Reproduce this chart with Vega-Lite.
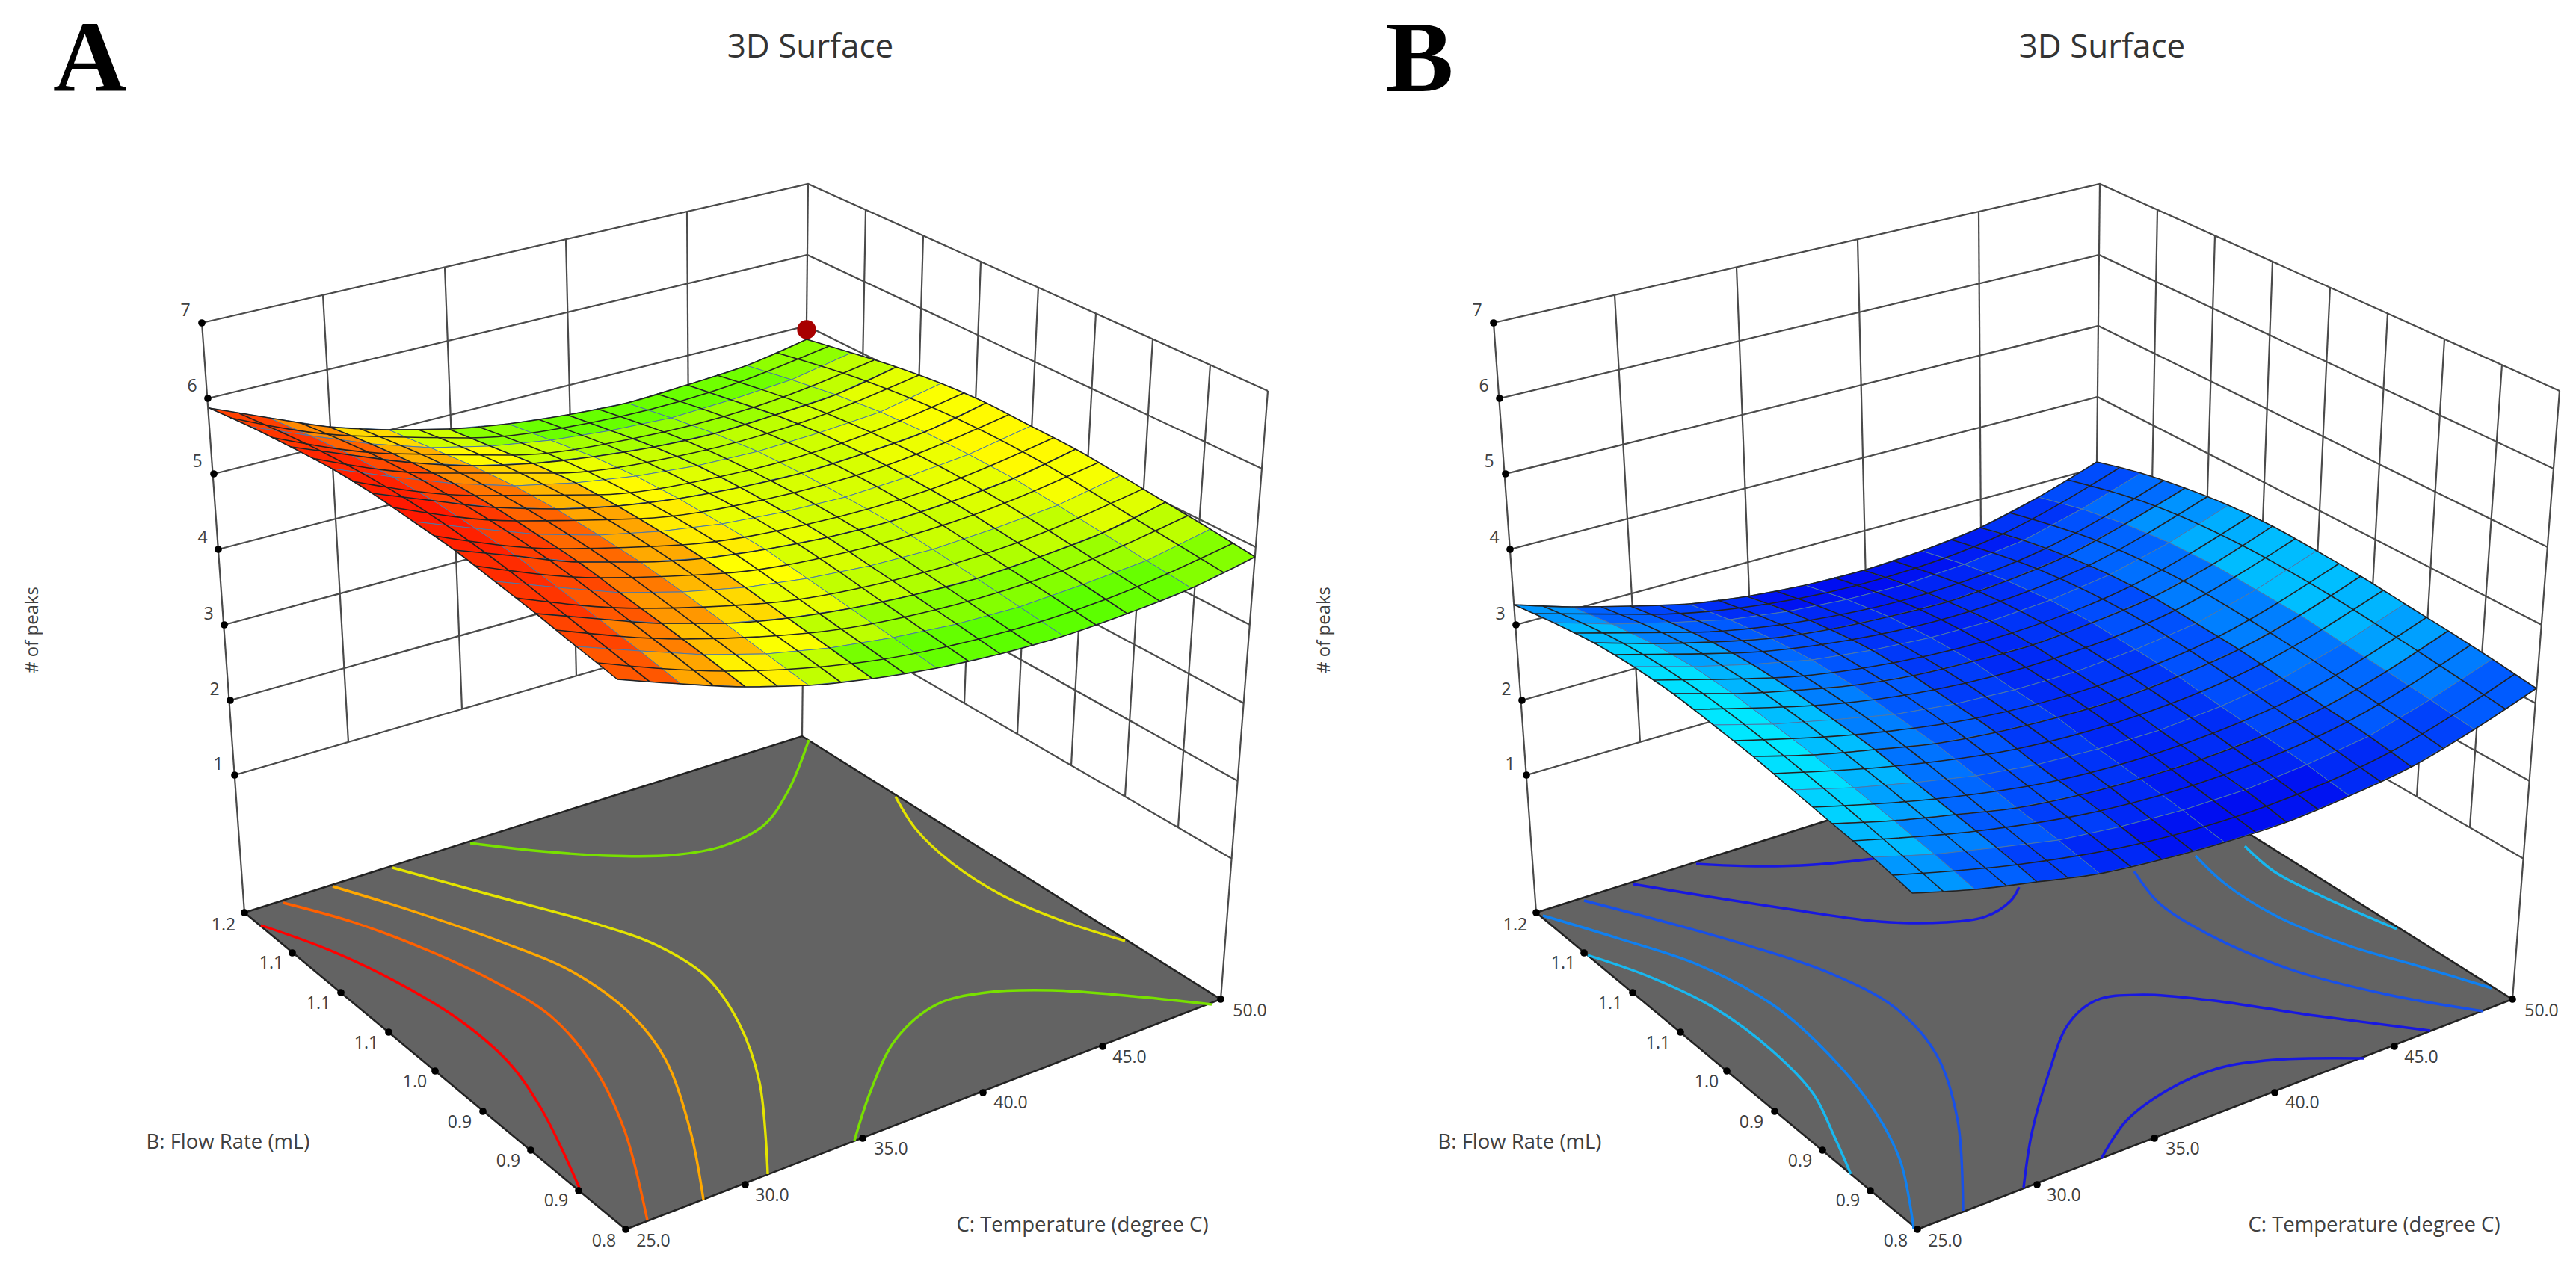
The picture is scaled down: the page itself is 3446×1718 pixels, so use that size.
{"$schema":"https://vega.github.io/schema/vega-lite/v6.json","padding":0,"autosize":{"type":"pad"},"background":"white","spacing":0,"config":{"view":{"stroke":null}},
"resolve":{"scale":{"fill":"independent","stroke":"independent"}},
"datasets":{
"walls":[
{"l":"z7","x":[270,1081,1696],"y":[432,246,523]},{"l":"z6","x":[278,1080,1688],"y":[533,341,627]},{"l":"z5","x":[286,1079,1680],"y":[634,436,732]},{"l":"z4","x":[292,1078,1672],"y":[735,531,836]},{"l":"z3","x":[300,1077,1664],"y":[836,626,941]},{"l":"z2","x":[308,1076,1656],"y":[937,721,1045]},{"l":"z1","x":[314,1075,1648],"y":[1037,816,1149]},
{"l":"a0","x":[270,327],"y":[432,1221]},{"l":"a1","x":[1081,1073],"y":[246,985]},{"l":"a2","x":[1696,1633],"y":[523,1337]},
{"l":"b1","x":[432,466],"y":[395,993]},{"l":"b2","x":[595,618],"y":[358,949]},{"l":"b3","x":[757,771],"y":[321,905]},{"l":"b4","x":[919,923],"y":[284,860]},
{"l":"c1","x":[1158,1147],"y":[281,858]},{"l":"c2","x":[1235,1218],"y":[315,899]},{"l":"c3","x":[1312,1290],"y":[350,941]},{"l":"c4","x":[1389,1361],"y":[384,982]},{"l":"c5","x":[1466,1433],"y":[419,1024]},{"l":"c6","x":[1542,1505],"y":[454,1066]},{"l":"c7","x":[1619,1576],"y":[488,1107]}],
"floor":[{"x":327,"y":1221},{"x":1073,"y":985},{"x":1633,"y":1337},{"x":837,"y":1645},{"x":327,"y":1221}],
"ticks":[{"x":270,"y":432},{"x":278,"y":533},{"x":286,"y":634},{"x":292,"y":735},{"x":300,"y":836},{"x":308,"y":937},{"x":314,"y":1037},{"x":327,"y":1221},{"x":391,"y":1275},{"x":456,"y":1328},{"x":520,"y":1381},{"x":582,"y":1433},{"x":646,"y":1487},{"x":710,"y":1539},{"x":774,"y":1593},{"x":837,"y":1645},{"x":997,"y":1585},{"x":1154,"y":1523},{"x":1315,"y":1462},{"x":1475,"y":1400},{"x":1633,"y":1337}],
"labels":[{"x":248,"y":416,"t":"7"},{"x":257,"y":517,"t":"6"},{"x":264,"y":618,"t":"5"},{"x":271,"y":720,"t":"4"},{"x":279,"y":822,"t":"3"},{"x":287,"y":923,"t":"2"},{"x":292,"y":1023,"t":"1"},
{"x":299,"y":1238,"t":"1.2"},{"x":363,"y":1289,"t":"1.1"},{"x":426,"y":1343,"t":"1.1"},{"x":490,"y":1396,"t":"1.1"},{"x":555,"y":1448,"t":"1.0"},{"x":615,"y":1502,"t":"0.9"},{"x":680,"y":1554,"t":"0.9"},{"x":744,"y":1607,"t":"0.9"},{"x":808,"y":1661,"t":"0.8"},
{"x":874,"y":1661,"t":"25.0"},{"x":1033,"y":1600,"t":"30.0"},{"x":1192,"y":1538,"t":"35.0"},{"x":1352,"y":1476,"t":"40.0"},{"x":1511,"y":1415,"t":"45.0"},{"x":1672,"y":1353,"t":"50.0"}],
"axisTitles":[{"x":305,"y":1529,"t":"B: Flow Rate (mL)"},{"x":1448,"y":1640,"t":"C: Temperature (degree C)"}],
"contA":[
{"l":"a","level":"L1","x":[349,440,527,615,681,725,775],"y":[1238,1271,1312,1365,1422,1485,1589]},
{"l":"b","level":"L2","x":[379,473,571,659,736,791,835,866],"y":[1208,1234,1271,1312,1359,1422,1511,1633]},
{"l":"c","level":"L3","x":[445,549,670,769,846,890,923,941],"y":[1186,1218,1260,1302,1359,1417,1511,1605]},
{"l":"d","level":"L4","x":[525,659,791,879,945,989,1016,1027],"y":[1161,1198,1234,1265,1307,1370,1448,1571]},
{"l":"e","level":"L5","x":[629,714,813,901,967,1022,1055,1082],"y":[1128,1138,1145,1144,1132,1104,1057,990]},
{"l":"f","level":"L4","x":[1198,1225,1275,1341,1418,1505],"y":[1066,1109,1156,1198,1231,1259]},
{"l":"g","level":"L5","x":[1143,1165,1198,1253,1319,1407,1516,1621],"y":[1526,1459,1391,1344,1328,1325,1333,1344]}],
"contB":[
{"l":"a","level":"L1","x":[396,479,566,643,698,726,748],"y":[1278,1307,1349,1406,1464,1521,1571]},
{"l":"b","level":"L2","x":[336,435,544,643,709,775,814,832],"y":[1225,1255,1291,1344,1401,1479,1553,1644]},
{"l":"c","level":"L3","x":[391,490,610,720,808,863,891,898],"y":[1205,1231,1265,1302,1349,1412,1500,1620]},
{"l":"d","level":"L4","x":[457,566,676,786,874,929,962,973],"y":[1183,1201,1218,1233,1234,1226,1205,1187]},
{"l":"e","level":"L4","x":[541,621,698,786],"y":[1156,1159,1157,1148]},
{"l":"f","level":"L3","x":[1127,1160,1226,1336,1467,1594],"y":[1166,1208,1250,1297,1331,1353]},
{"l":"g","level":"L2","x":[1209,1248,1314,1413,1512,1605],"y":[1145,1182,1224,1265,1294,1322]},
{"l":"h","level":"L1","x":[1275,1314,1380,1478],"y":[1132,1166,1200,1243]},
{"l":"i","level":"L4","x":[979,990,1012,1039,1077,1138,1226,1369,1523],"y":[1589,1516,1438,1370,1338,1331,1338,1359,1379]},
{"l":"j","level":"L4","x":[1083,1116,1171,1237,1314,1435],"y":[1550,1500,1459,1430,1418,1416]}],
"gridA":[
{"k":0,"x":280,"y":546,"s":0.9},{"k":1,"x":360,"y":559,"s":0.75},{"k":2,"x":440,"y":571,"s":0.58},{"k":3,"x":520,"y":575,"s":0.38},{"k":4,"x":600,"y":574,"s":0.24},{"k":5,"x":680,"y":567,"s":0.18},{"k":6,"x":759,"y":555,"s":0.16},{"k":7,"x":839,"y":539,"s":0.17},{"k":8,"x":919,"y":515,"s":0.2},{"k":9,"x":999,"y":489,"s":0.25},{"k":10,"x":1079,"y":454,"s":0.25},
{"k":11,"x":335,"y":571,"s":0.93},{"k":12,"x":415,"y":583,"s":0.82},{"k":13,"x":496,"y":594,"s":0.67},{"k":14,"x":576,"y":599,"s":0.51},{"k":15,"x":656,"y":597,"s":0.36},{"k":16,"x":737,"y":589,"s":0.29},{"k":17,"x":817,"y":576,"s":0.26},{"k":18,"x":898,"y":559,"s":0.27},{"k":19,"x":978,"y":535,"s":0.3},{"k":20,"x":1059,"y":508,"s":0.35},{"k":21,"x":1139,"y":472,"s":0.35},
{"k":22,"x":389,"y":598,"s":0.96},{"k":23,"x":470,"y":609,"s":0.87},{"k":24,"x":551,"y":619,"s":0.75},{"k":25,"x":632,"y":623,"s":0.59},{"k":26,"x":713,"y":620,"s":0.45},{"k":27,"x":794,"y":611,"s":0.37},{"k":28,"x":875,"y":598,"s":0.33},{"k":29,"x":956,"y":580,"s":0.34},{"k":30,"x":1037,"y":555,"s":0.38},{"k":31,"x":1118,"y":528,"s":0.43},{"k":32,"x":1199,"y":491,"s":0.43},
{"k":33,"x":444,"y":627,"s":0.97},{"k":34,"x":525,"y":638,"s":0.9},{"k":35,"x":607,"y":647,"s":0.79},{"k":36,"x":688,"y":650,"s":0.66},{"k":37,"x":770,"y":646,"s":0.51},{"k":38,"x":851,"y":637,"s":0.42},{"k":39,"x":933,"y":623,"s":0.38},{"k":40,"x":1014,"y":604,"s":0.38},{"k":41,"x":1096,"y":579,"s":0.43},{"k":42,"x":1178,"y":551,"s":0.49},{"k":43,"x":1259,"y":513,"s":0.49},
{"k":44,"x":498,"y":660,"s":0.98},{"k":45,"x":580,"y":670,"s":0.92},{"k":46,"x":662,"y":679,"s":0.82},{"k":47,"x":744,"y":681,"s":0.69},{"k":48,"x":826,"y":677,"s":0.54},{"k":49,"x":908,"y":667,"s":0.44},{"k":50,"x":990,"y":652,"s":0.4},{"k":51,"x":1072,"y":633,"s":0.4},{"k":52,"x":1155,"y":607,"s":0.45},{"k":53,"x":1237,"y":578,"s":0.51},{"k":54,"x":1319,"y":539,"s":0.51},
{"k":55,"x":553,"y":698,"s":0.97},{"k":56,"x":636,"y":707,"s":0.91},{"k":57,"x":718,"y":715,"s":0.81},{"k":58,"x":801,"y":716,"s":0.68},{"k":59,"x":883,"y":711,"s":0.54},{"k":60,"x":966,"y":701,"s":0.44},{"k":61,"x":1049,"y":685,"s":0.39},{"k":62,"x":1131,"y":665,"s":0.4},{"k":63,"x":1214,"y":638,"s":0.44},{"k":64,"x":1296,"y":608,"s":0.51},{"k":65,"x":1379,"y":570,"s":0.51},
{"k":66,"x":608,"y":736,"s":0.95},{"k":67,"x":691,"y":744,"s":0.88},{"k":68,"x":774,"y":752,"s":0.78},{"k":69,"x":857,"y":752,"s":0.65},{"k":70,"x":941,"y":747,"s":0.5},{"k":71,"x":1024,"y":735,"s":0.4},{"k":72,"x":1107,"y":719,"s":0.36},{"k":73,"x":1190,"y":698,"s":0.37},{"k":74,"x":1273,"y":671,"s":0.41},{"k":75,"x":1356,"y":640,"s":0.48},{"k":76,"x":1439,"y":601,"s":0.48},
{"k":77,"x":662,"y":778,"s":0.93},{"k":78,"x":746,"y":786,"s":0.84},{"k":79,"x":829,"y":793,"s":0.72},{"k":80,"x":913,"y":792,"s":0.58},{"k":81,"x":997,"y":786,"s":0.44},{"k":82,"x":1080,"y":774,"s":0.35},{"k":83,"x":1164,"y":757,"s":0.31},{"k":84,"x":1248,"y":735,"s":0.31},{"k":85,"x":1331,"y":707,"s":0.35},{"k":86,"x":1415,"y":676,"s":0.42},{"k":87,"x":1499,"y":636,"s":0.42},
{"k":88,"x":717,"y":821,"s":0.89},{"k":89,"x":801,"y":828,"s":0.77},{"k":90,"x":885,"y":834,"s":0.64},{"k":91,"x":970,"y":834,"s":0.49},{"k":92,"x":1054,"y":827,"s":0.34},{"k":93,"x":1138,"y":814,"s":0.26},{"k":94,"x":1222,"y":796,"s":0.23},{"k":95,"x":1307,"y":774,"s":0.23},{"k":96,"x":1391,"y":745,"s":0.27},{"k":97,"x":1475,"y":713,"s":0.34},{"k":98,"x":1559,"y":672,"s":0.34},
{"k":99,"x":771,"y":865,"s":0.84},{"k":100,"x":856,"y":871,"s":0.69},{"k":101,"x":941,"y":876,"s":0.53},{"k":102,"x":1025,"y":875,"s":0.35},{"k":103,"x":1110,"y":867,"s":0.21},{"k":104,"x":1195,"y":853,"s":0.15},{"k":105,"x":1280,"y":835,"s":0.12},{"k":106,"x":1364,"y":812,"s":0.12},{"k":107,"x":1449,"y":782,"s":0.16},{"k":108,"x":1534,"y":750,"s":0.23},{"k":109,"x":1619,"y":708,"s":0.23},
{"k":110,"x":826,"y":909,"s":0.84},{"k":111,"x":911,"y":915,"s":0.69},{"k":112,"x":997,"y":919,"s":0.53},{"k":113,"x":1082,"y":917,"s":0.35},{"k":114,"x":1167,"y":908,"s":0.21},{"k":115,"x":1253,"y":894,"s":0.15},{"k":116,"x":1338,"y":875,"s":0.12},{"k":117,"x":1423,"y":851,"s":0.12},{"k":118,"x":1508,"y":821,"s":0.16},{"k":119,"x":1594,"y":787,"s":0.23},{"k":120,"x":1679,"y":745,"s":0.23}],
"gridB":[
{"k":0,"x":297,"y":809,"s":0.64},{"k":1,"x":375,"y":812,"s":0.4},{"k":2,"x":453,"y":811,"s":0.23},{"k":3,"x":531,"y":808,"s":0.11},{"k":4,"x":609,"y":798,"s":0.03},{"k":5,"x":687,"y":783,"s":0.02},{"k":6,"x":765,"y":763,"s":0.03},{"k":7,"x":843,"y":737,"s":0.055},{"k":8,"x":921,"y":706,"s":0.14},{"k":9,"x":999,"y":665,"s":0.27},{"k":10,"x":1077,"y":618,"s":0.27},
{"k":11,"x":350,"y":833,"s":0.78},{"k":12,"x":429,"y":835,"s":0.56},{"k":13,"x":507,"y":833,"s":0.36},{"k":14,"x":586,"y":829,"s":0.21},{"k":15,"x":664,"y":818,"s":0.09},{"k":16,"x":743,"y":802,"s":0.05},{"k":17,"x":821,"y":782,"s":0.08},{"k":18,"x":900,"y":755,"s":0.15},{"k":19,"x":979,"y":723,"s":0.3},{"k":20,"x":1057,"y":681,"s":0.47},{"k":21,"x":1136,"y":633,"s":0.47},
{"k":22,"x":404,"y":860,"s":0.89},{"k":23,"x":483,"y":861,"s":0.68},{"k":24,"x":562,"y":859,"s":0.45},{"k":25,"x":641,"y":854,"s":0.28},{"k":26,"x":720,"y":842,"s":0.135},{"k":27,"x":799,"y":825,"s":0.075},{"k":28,"x":878,"y":805,"s":0.11},{"k":29,"x":957,"y":777,"s":0.22},{"k":30,"x":1036,"y":744,"s":0.42},{"k":31,"x":1115,"y":701,"s":0.625},{"k":32,"x":1195,"y":653,"s":0.625},
{"k":33,"x":457,"y":892,"s":0.96},{"k":34,"x":537,"y":892,"s":0.76},{"k":35,"x":616,"y":889,"s":0.52},{"k":36,"x":696,"y":883,"s":0.32},{"k":37,"x":776,"y":870,"s":0.165},{"k":38,"x":855,"y":853,"s":0.09},{"k":39,"x":935,"y":831,"s":0.14},{"k":40,"x":1015,"y":803,"s":0.27},{"k":41,"x":1094,"y":769,"s":0.5},{"k":42,"x":1174,"y":726,"s":0.73},{"k":43,"x":1253,"y":676,"s":0.73},
{"k":44,"x":510,"y":928,"s":0.995},{"k":45,"x":590,"y":928,"s":0.8},{"k":46,"x":670,"y":924,"s":0.55},{"k":47,"x":751,"y":917,"s":0.35},{"k":48,"x":831,"y":904,"s":0.18},{"k":49,"x":911,"y":885,"s":0.1},{"k":50,"x":991,"y":863,"s":0.15},{"k":51,"x":1071,"y":833,"s":0.295},{"k":52,"x":1152,"y":799,"s":0.54},{"k":53,"x":1232,"y":755,"s":0.79},{"k":54,"x":1312,"y":704,"s":0.79},
{"k":55,"x":564,"y":970,"s":0.995},{"k":56,"x":644,"y":969,"s":0.8},{"k":57,"x":725,"y":963,"s":0.55},{"k":58,"x":806,"y":956,"s":0.35},{"k":59,"x":887,"y":942,"s":0.18},{"k":60,"x":967,"y":923,"s":0.1},{"k":61,"x":1048,"y":899,"s":0.15},{"k":62,"x":1129,"y":869,"s":0.3},{"k":63,"x":1210,"y":834,"s":0.55},{"k":64,"x":1290,"y":789,"s":0.8},{"k":65,"x":1371,"y":737,"s":0.8},
{"k":66,"x":617,"y":1012,"s":0.96},{"k":67,"x":698,"y":1010,"s":0.76},{"k":68,"x":780,"y":1003,"s":0.51},{"k":69,"x":861,"y":995,"s":0.32},{"k":70,"x":942,"y":980,"s":0.165},{"k":71,"x":1024,"y":960,"s":0.09},{"k":72,"x":1105,"y":936,"s":0.14},{"k":73,"x":1186,"y":905,"s":0.28},{"k":74,"x":1267,"y":869,"s":0.52},{"k":75,"x":1349,"y":823,"s":0.76},{"k":76,"x":1430,"y":771,"s":0.76},
{"k":77,"x":670,"y":1057,"s":0.89},{"k":78,"x":752,"y":1054,"s":0.68},{"k":79,"x":834,"y":1047,"s":0.44},{"k":80,"x":916,"y":1038,"s":0.27},{"k":81,"x":997,"y":1023,"s":0.135},{"k":82,"x":1079,"y":1002,"s":0.075},{"k":83,"x":1161,"y":977,"s":0.11},{"k":84,"x":1243,"y":945,"s":0.245},{"k":85,"x":1325,"y":908,"s":0.45},{"k":86,"x":1407,"y":861,"s":0.675},{"k":87,"x":1489,"y":808,"s":0.675},
{"k":88,"x":723,"y":1102,"s":0.78},{"k":89,"x":806,"y":1098,"s":0.56},{"k":90,"x":888,"y":1090,"s":0.34},{"k":91,"x":970,"y":1081,"s":0.19},{"k":92,"x":1053,"y":1064,"s":0.09},{"k":93,"x":1135,"y":1042,"s":0.05},{"k":94,"x":1217,"y":1016,"s":0.08},{"k":95,"x":1300,"y":984,"s":0.18},{"k":96,"x":1382,"y":946,"s":0.35},{"k":97,"x":1465,"y":898,"s":0.54},{"k":98,"x":1547,"y":844,"s":0.54},
{"k":99,"x":777,"y":1147,"s":0.64},{"k":100,"x":860,"y":1143,"s":0.4},{"k":101,"x":943,"y":1134,"s":0.2},{"k":102,"x":1026,"y":1124,"s":0.09},{"k":103,"x":1109,"y":1106,"s":0.03},{"k":104,"x":1192,"y":1084,"s":0.02},{"k":105,"x":1275,"y":1057,"s":0.03},{"k":106,"x":1358,"y":1023,"s":0.1},{"k":107,"x":1441,"y":985,"s":0.21},{"k":108,"x":1523,"y":936,"s":0.36},{"k":109,"x":1606,"y":882,"s":0.36},
{"k":110,"x":830,"y":1195,"s":0.64},{"k":111,"x":914,"y":1190,"s":0.4},{"k":112,"x":997,"y":1180,"s":0.2},{"k":113,"x":1081,"y":1169,"s":0.09},{"k":114,"x":1164,"y":1150,"s":0.03},{"k":115,"x":1248,"y":1127,"s":0.02},{"k":116,"x":1331,"y":1100,"s":0.03},{"k":117,"x":1415,"y":1065,"s":0.1},{"k":118,"x":1498,"y":1026,"s":0.21},{"k":119,"x":1582,"y":976,"s":0.36},{"k":120,"x":1665,"y":921,"s":0.36}],
"meshA":[
{"l":"v0","x":[320,430,539,650,759,869],"y":[553,604,665,740,825,912]},{"l":"v1","x":[400,511,621,733,843,954],"y":[565,614,675,748,831,917]},{"l":"v2","x":[480,592,703,816,928,1040],"y":[573,621,680,752,834,918]},{"l":"v3","x":[560,673,785,899,1012,1125],"y":[575,622,679,750,831,913]},{"l":"v4","x":[640,754,867,983,1096,1210],"y":[571,616,672,741,821,901]},{"l":"v5","x":[720,835,949,1066,1180,1296],"y":[561,605,660,727,805,885]},{"l":"v6","x":[799,916,1031,1149,1265,1381],"y":[547,589,643,709,785,863]},{"l":"v7","x":[879,997,1114,1232,1349,1466],"y":[527,568,620,685,760,836]},{"l":"v8","x":[959,1078,1196,1315,1433,1551],"y":[502,542,593,656,729,804]},{"l":"v9","x":[1039,1159,1278,1398,1517,1637],"y":[472,510,559,621,693,766]},
{"l":"h0","x":[308,468,628,788,949,1109],"y":[559,583,586,566,525,463]},{"l":"h1","x":[362,524,685,846,1008,1169],"y":[585,607,609,587,545,482]},{"l":"h2","x":[417,579,742,904,1067,1229],"y":[613,633,633,611,567,502]},{"l":"h3","x":[471,635,798,962,1126,1289],"y":[644,663,662,638,593,526]},{"l":"h4","x":[526,690,855,1020,1185,1349],"y":[679,697,694,669,623,555]},{"l":"h5","x":[581,746,912,1078,1244,1409],"y":[717,734,729,702,655,586]},{"l":"h6","x":[635,802,969,1136,1302,1469],"y":[757,773,767,738,689,619]},{"l":"h7","x":[690,857,1026,1193,1361,1529],"y":[800,814,807,777,726,654]},{"l":"h8","x":[744,913,1082,1251,1420,1589],"y":[843,855,847,816,764,690]},{"l":"h9","x":[799,969,1139,1309,1479,1649],"y":[887,898,888,855,802,727]}],
"meshB":[
{"l":"v0","x":[336,444,550,658,765,872],"y":[811,861,928,1011,1100,1193]},{"l":"v1","x":[414,523,630,739,847,956],"y":[812,860,926,1007,1094,1185]},{"l":"v2","x":[492,602,711,821,929,1039],"y":[810,857,921,999,1086,1175]},{"l":"v3","x":[570,681,791,902,1012,1123],"y":[803,848,911,988,1073,1160]},{"l":"v4","x":[648,760,871,983,1094,1206],"y":[791,834,895,970,1053,1139]},{"l":"v5","x":[726,839,951,1065,1176,1290],"y":[773,815,874,948,1029,1114]},{"l":"v6","x":[804,918,1031,1146,1259,1373],"y":[750,791,848,921,1000,1083]},{"l":"v7","x":[882,997,1112,1227,1341,1457],"y":[722,761,816,887,965,1046]},{"l":"v8","x":[960,1076,1192,1308,1424,1540],"y":[686,723,777,846,922,1001]},{"l":"v9","x":[1038,1155,1272,1390,1506,1624],"y":[642,677,730,797,871,949]},
{"l":"h0","x":[324,480,637,793,950,1107],"y":[821,822,808,773,715,626]},{"l":"h1","x":[377,535,692,850,1008,1166],"y":[847,846,830,794,734,643]},{"l":"h2","x":[431,589,748,907,1065,1224],"y":[876,874,856,818,757,665]},{"l":"h3","x":[484,643,804,963,1123,1283],"y":[910,907,887,847,784,690]},{"l":"h4","x":[537,698,859,1020,1181,1342],"y":[949,944,923,881,817,721]},{"l":"h5","x":[591,753,915,1077,1239,1401],"y":[991,983,961,918,852,754]},{"l":"h6","x":[644,807,970,1133,1296,1460],"y":[1035,1025,1002,957,889,790]},{"l":"h7","x":[697,861,1025,1189,1354,1518],"y":[1080,1069,1044,997,927,826]},{"l":"h8","x":[750,916,1081,1246,1412,1577],"y":[1125,1112,1085,1037,966,863]},{"l":"h9","x":[804,970,1137,1303,1470,1636],"y":[1171,1157,1128,1079,1006,902]}]
},
"hconcat":[
{"width":1728,"height":1718,
"resolve":{"scale":{"fill":"independent","stroke":"independent"}},
"encoding":{"x":{"field":"x","type":"quantitative","scale":{"domain":[0,1728],"nice":false},"axis":null},"y":{"field":"y","type":"quantitative","scale":{"domain":[1718,0],"nice":false},"axis":null}},
"layer":[
{"data":{"name":"walls"},"transform":[{"flatten":["x","y"]}],"mark":{"type":"line","stroke":"#4a4a4a","strokeWidth":2.2},"encoding":{"detail":{"field":"l"},"order":{"value":null}}},
{"data":{"name":"floor"},"mark":{"type":"line","stroke":"#222222","strokeWidth":2.5},"encoding":{"fill":{"value":"#636363"},"order":{"value":null}}},
{"data":{"name":"contA"},"transform":[{"flatten":["x","y"]}],"mark":{"type":"line","strokeWidth":3.4,"interpolate":"catmull-rom"},"encoding":{"detail":{"field":"l"},"order":{"value":null},"stroke":{"field":"level","type":"ordinal","legend":null,"scale":{"domain":["L1","L2","L3","L4","L5"],"range":["#ff0000","#ff6000","#ffa800","#e4e400","#78e000"]}}}},
{"data":{"name":"gridA"},"transform":[{"calculate":"datum.k%11","as":"i"},{"calculate":"floor(datum.k/11)","as":"j"},{"filter":"datum.i<10&&datum.j<10"},{"calculate":"[0,1,12,11,0]","as":"o"},{"flatten":["o"]},{"calculate":"datum.k+datum.o","as":"key"},{"lookup":"key","from":{"data":{"name":"gridA"},"key":"k","fields":["x","y"]},"as":["px","py"]}],
"mark":{"type":"line","strokeWidth":1},"encoding":{"x":{"field":"px","type":"quantitative","scale":{"domain":[0,1728],"nice":false},"axis":null},"y":{"field":"py","type":"quantitative","scale":{"domain":[1718,0],"nice":false},"axis":null},"detail":{"field":"k"},"order":{"value":null},
"fill":{"field":"s","type":"quantitative","legend":null,"scale":{"domain":[0,0.2,0.5,0.7,0.85,1],"range":["#30ff00","#70ff00","#ffff00","#ffa000","#ff5000","#ff0000"]}}}},
{"data":{"name":"gridA"},"transform":[{"calculate":"floor(datum.k/11)","as":"j"},{"filter":"datum.j%2==0"}],"mark":{"type":"line","stroke":"#222222","strokeWidth":1.6,"interpolate":"monotone"},"encoding":{"detail":{"field":"j"},"order":{"value":null}}},
{"data":{"name":"gridA"},"transform":[{"calculate":"datum.k%11","as":"i"},{"filter":"datum.i%2==0"}],"mark":{"type":"line","stroke":"#222222","strokeWidth":1.6,"interpolate":"monotone"},"encoding":{"detail":{"field":"i"},"order":{"value":null}}},
{"data":{"name":"meshA"},"transform":[{"flatten":["x","y"]}],"mark":{"type":"line","stroke":"#222222","strokeWidth":1.6,"interpolate":"monotone"},"encoding":{"detail":{"field":"l"},"order":{"value":null}}},
{"data":{"name":"ticks"},"mark":{"type":"point","filled":true,"color":"#000000","size":95,"opacity":1}},
{"data":{"values":[{"x":1079,"y":441}]},"mark":{"type":"point","filled":true,"color":"#a80000","size":640,"opacity":1}},
{"data":{"name":"labels"},"mark":{"type":"text","font":"Open Sans","fontSize":23,"color":"#404040","baseline":"middle"},"encoding":{"text":{"field":"t"}}},
{"data":{"name":"axisTitles"},"mark":{"type":"text","font":"Open Sans","fontSize":27.5,"color":"#404040","baseline":"middle"},"encoding":{"text":{"field":"t"}}},
{"data":{"values":[{"x":1084,"y":64,"t":"3D Surface"}]},"mark":{"type":"text","font":"Open Sans","fontSize":44,"color":"#333333","baseline":"middle"},"encoding":{"text":{"field":"t"}}},
{"data":{"values":[{"x":44,"y":843,"t":"# of peaks"}]},"mark":{"type":"text","font":"Open Sans","fontSize":24,"color":"#404040","baseline":"middle","angle":270},"encoding":{"text":{"field":"t"}}},
{"data":{"values":[{"x":120,"y":122,"t":"A"}]},"mark":{"type":"text","font":"Liberation Serif","fontWeight":"bold","fontSize":136,"color":"#000000","baseline":"alphabetic"},"encoding":{"text":{"field":"t"}}}
]},
{"width":1718,"height":1718,
"resolve":{"scale":{"fill":"independent","stroke":"independent"}},
"encoding":{"x":{"field":"x","type":"quantitative","scale":{"domain":[0,1718],"nice":false},"axis":null},"y":{"field":"y","type":"quantitative","scale":{"domain":[1718,0],"nice":false},"axis":null}},
"layer":[
{"data":{"name":"walls"},"transform":[{"flatten":["x","y"]}],"mark":{"type":"line","stroke":"#4a4a4a","strokeWidth":2.2},"encoding":{"detail":{"field":"l"},"order":{"value":null}}},
{"data":{"name":"floor"},"mark":{"type":"line","stroke":"#222222","strokeWidth":2.5},"encoding":{"fill":{"value":"#636363"},"order":{"value":null}}},
{"data":{"name":"contB"},"transform":[{"flatten":["x","y"]}],"mark":{"type":"line","strokeWidth":3.4,"interpolate":"catmull-rom"},"encoding":{"detail":{"field":"l"},"order":{"value":null},"stroke":{"field":"level","type":"ordinal","legend":null,"scale":{"domain":["L1","L2","L3","L4"],"range":["#18b8f0","#1080f0","#1850e8","#1818e0"]}}}},
{"data":{"name":"gridB"},"transform":[{"calculate":"datum.k%11","as":"i"},{"calculate":"floor(datum.k/11)","as":"j"},{"filter":"datum.i<10&&datum.j<10"},{"calculate":"[0,1,12,11,0]","as":"o"},{"flatten":["o"]},{"calculate":"datum.k+datum.o","as":"key"},{"lookup":"key","from":{"data":{"name":"gridB"},"key":"k","fields":["x","y"]},"as":["px","py"]}],
"mark":{"type":"line","strokeWidth":1},"encoding":{"x":{"field":"px","type":"quantitative","scale":{"domain":[0,1718],"nice":false},"axis":null},"y":{"field":"py","type":"quantitative","scale":{"domain":[1718,0],"nice":false},"axis":null},"detail":{"field":"k"},"order":{"value":null},
"fill":{"field":"s","type":"quantitative","legend":null,"scale":{"domain":[0,0.5,1],"range":["#0000f0","#0070ff","#00e8ff"]}}}},
{"data":{"name":"gridB"},"transform":[{"calculate":"floor(datum.k/11)","as":"j"},{"filter":"datum.j%2==0"}],"mark":{"type":"line","stroke":"#222222","strokeWidth":1.6,"interpolate":"monotone"},"encoding":{"detail":{"field":"j"},"order":{"value":null}}},
{"data":{"name":"gridB"},"transform":[{"calculate":"datum.k%11","as":"i"},{"filter":"datum.i%2==0"}],"mark":{"type":"line","stroke":"#222222","strokeWidth":1.6,"interpolate":"monotone"},"encoding":{"detail":{"field":"i"},"order":{"value":null}}},
{"data":{"name":"meshB"},"transform":[{"flatten":["x","y"]}],"mark":{"type":"line","stroke":"#222222","strokeWidth":1.6,"interpolate":"monotone"},"encoding":{"detail":{"field":"l"},"order":{"value":null}}},
{"data":{"name":"ticks"},"mark":{"type":"point","filled":true,"color":"#000000","size":95,"opacity":1}},
{"data":{"name":"labels"},"mark":{"type":"text","font":"Open Sans","fontSize":23,"color":"#404040","baseline":"middle"},"encoding":{"text":{"field":"t"}}},
{"data":{"name":"axisTitles"},"mark":{"type":"text","font":"Open Sans","fontSize":27.5,"color":"#404040","baseline":"middle"},"encoding":{"text":{"field":"t"}}},
{"data":{"values":[{"x":1084,"y":64,"t":"3D Surface"}]},"mark":{"type":"text","font":"Open Sans","fontSize":44,"color":"#333333","baseline":"middle"},"encoding":{"text":{"field":"t"}}},
{"data":{"values":[{"x":44,"y":843,"t":"# of peaks"}]},"mark":{"type":"text","font":"Open Sans","fontSize":24,"color":"#404040","baseline":"middle","angle":270},"encoding":{"text":{"field":"t"}}},
{"data":{"values":[{"x":171,"y":122,"t":"B"}]},"mark":{"type":"text","font":"Liberation Serif","fontWeight":"bold","fontSize":136,"color":"#000000","baseline":"alphabetic"},"encoding":{"text":{"field":"t"}}}
]}
]}
